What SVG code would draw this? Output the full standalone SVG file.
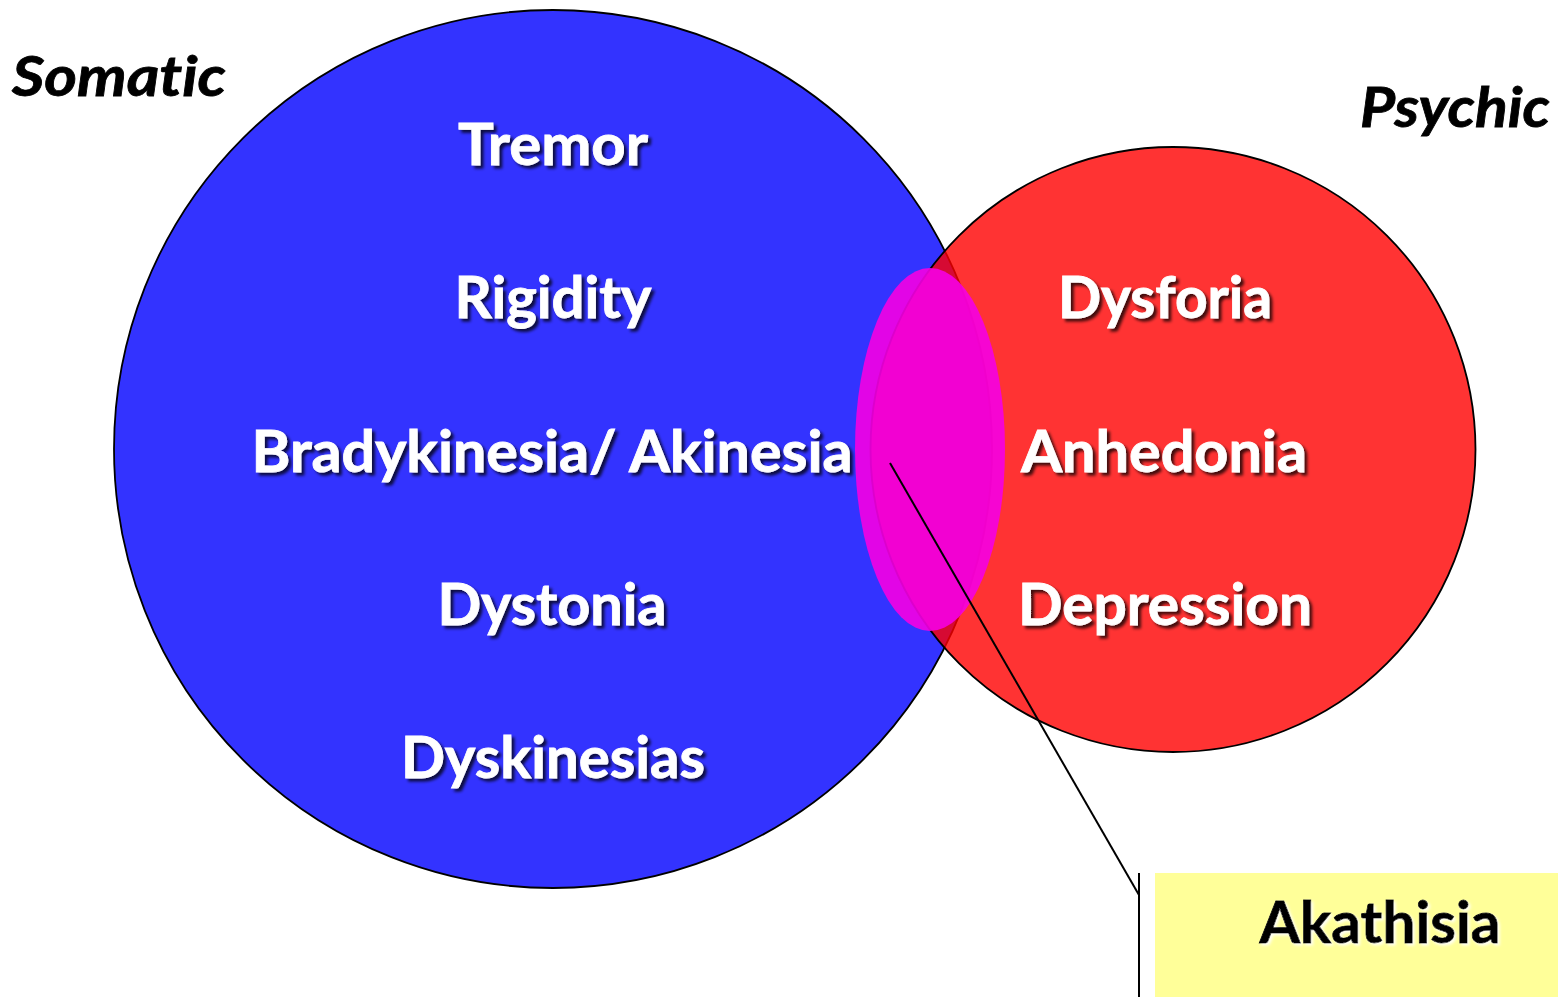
<svg xmlns="http://www.w3.org/2000/svg" width="1558" height="997" viewBox="0 0 1558 997">
<defs>
<filter id="sh" x="-10%" y="-30%" width="130%" height="170%">
<feDropShadow dx="3" dy="3" stdDeviation="1.5" flood-color="#000" flood-opacity="0.75"/>
</filter>
<filter id="glow" x="-10%" y="-30%" width="130%" height="170%">
<feDropShadow dx="2" dy="2" stdDeviation="1.5" flood-color="#fff" flood-opacity="0.9"/>
</filter>
<style>
text{font-variant-ligatures:none;font-feature-settings:"liga" 0}
.lbl{font-family:Lato,"Open Sans","Liberation Sans",sans-serif;font-weight:bold;font-size:58px;fill:#fff;text-anchor:middle;filter:url(#sh);stroke:#fff;stroke-width:0.8}
.hdr{font-family:Lato,"Open Sans","Liberation Sans",sans-serif;font-weight:bold;font-style:italic;font-size:56px;fill:#000;stroke:#000;stroke-width:0.8}
.ak{font-family:Lato,"Open Sans","Liberation Sans",sans-serif;font-weight:bold;font-size:58px;fill:#000;text-anchor:middle;filter:url(#glow);stroke:#000;stroke-width:0.8}
</style>
</defs>
<rect width="1558" height="997" fill="#fff"/>
<g id="somatic">
<circle cx="553" cy="449" r="439" fill="#3333ff" stroke="#000" stroke-width="1.8"/>
</g>
<g id="psychic">
<circle cx="1173" cy="449.5" r="302.5" fill="#ff0000" fill-opacity="0.8" stroke="#000" stroke-width="1.8"/>
</g>
<g id="overlap">
<ellipse cx="930" cy="449.5" rx="75" ry="181.5" fill="#f500e3" fill-opacity="0.9"/>
</g>
<g id="connectors">
<polyline points="890,463 1139,895" fill="none" stroke="#000" stroke-width="2"/>
<line x1="1139" y1="873" x2="1139" y2="997" stroke="#000" stroke-width="2"/>
</g>
<g id="akathisia">
<rect x="1155" y="873" width="403" height="124" fill="#ffff99"/>
<text class="ak" x="1380" y="943" textLength="241" lengthAdjust="spacingAndGlyphs">Akathisia</text>
</g>
<g id="somatic-labels">
<text class="hdr" x="12" y="96" textLength="214" lengthAdjust="spacingAndGlyphs">Somatic</text>
<text class="lbl" x="553" y="165" textLength="190" lengthAdjust="spacingAndGlyphs">Tremor</text>
<text class="lbl" x="553" y="318" textLength="197" lengthAdjust="spacingAndGlyphs">Rigidity</text>
<text class="lbl" x="552" y="472" textLength="601" lengthAdjust="spacingAndGlyphs">Bradykinesia/ Akinesia</text>
<text class="lbl" x="552" y="625" textLength="229" lengthAdjust="spacingAndGlyphs">Dystonia</text>
<text class="lbl" x="553" y="778" textLength="304" lengthAdjust="spacingAndGlyphs">Dyskinesias</text>
</g>
<g id="psychic-labels">
<text class="hdr" x="1360" y="127" textLength="190" lengthAdjust="spacingAndGlyphs">Psychic</text>
<text class="lbl" x="1165" y="318" textLength="214" lengthAdjust="spacingAndGlyphs">Dysforia</text>
<text class="lbl" x="1164" y="472" textLength="286" lengthAdjust="spacingAndGlyphs">Anhedonia</text>
<text class="lbl" x="1165" y="625" textLength="294" lengthAdjust="spacingAndGlyphs">Depression</text>
</g>
</svg>
